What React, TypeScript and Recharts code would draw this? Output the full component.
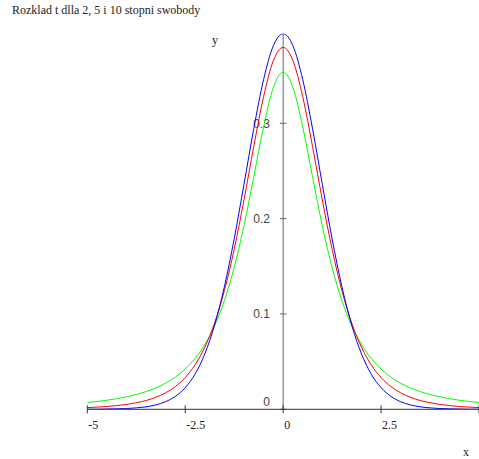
import React from "react";
import { LineChart, Line, XAxis, YAxis, ReferenceLine } from "recharts";

// Sample positions along the x axis
const xValues = [
  -5, -4.75, -4.5, -4.25, -4, -3.75, -3.5, -3.25, -3, -2.75, -2.5, -2.25, -2, -1.75, -1.5, -1.25, -1, -0.75, -0.5, -0.25,
  0, 0.25, 0.5, 0.75, 1, 1.25, 1.5, 1.75, 2, 2.25, 2.5, 2.75, 3, 3.25, 3.5, 3.75, 4, 4.25, 4.5, 4.75, 5,
];

// Density values (green curve: 2 degrees of freedom)
const green = [
  0.0071, 0.0082, 0.0095, 0.0111, 0.0131, 0.0155, 0.0186, 0.0225, 0.0274, 0.0338, 0.0422, 0.0533, 0.068, 0.0878, 0.1141, 0.1487, 0.1925, 0.2438, 0.2963, 0.3376,
  0.3536, 0.3376, 0.2963, 0.2438, 0.1925, 0.1487, 0.1141, 0.0878, 0.068, 0.0533, 0.0422, 0.0338, 0.0274, 0.0225, 0.0186, 0.0155, 0.0131, 0.0111, 0.0095, 0.0082, 0.0071,
];

// Density values (red curve: 5 degrees of freedom)
const red = [
  0.0018, 0.0023, 0.0029, 0.0039, 0.0051, 0.0069, 0.0092, 0.0126, 0.0173, 0.0239, 0.0333, 0.0466, 0.0651, 0.0905, 0.1245, 0.1679, 0.2197, 0.2757, 0.3279, 0.3657,
  0.3796, 0.3657, 0.3279, 0.2757, 0.2197, 0.1679, 0.1245, 0.0905, 0.0651, 0.0466, 0.0333, 0.0239, 0.0173, 0.0126, 0.0092, 0.0069, 0.0051, 0.0039, 0.0029, 0.0023, 0.0018,
];

// Density values (blue curve)
const blue = [
  0.0001, 0.0001, 0.0003, 0.0005, 0.0008, 0.0015, 0.0026, 0.0046, 0.008, 0.0136, 0.0227, 0.0368, 0.0581, 0.0883, 0.1286, 0.1788, 0.236, 0.2944, 0.3458, 0.3813,
  0.394, 0.3813, 0.3458, 0.2944, 0.236, 0.1788, 0.1286, 0.0883, 0.0581, 0.0368, 0.0227, 0.0136, 0.008, 0.0046, 0.0026, 0.0015, 0.0008, 0.0005, 0.0003, 0.0001, 0.0001,
];

const xTicks = [-5, -2.5, 0, 2.5, 5];
const xTickLabels = ["-5", "-2.5", "0", "2.5", ""];
const yTicks = [0, 0.1, 0.2, 0.3];
const yTickLabels = ["0", "0.1", "0.2", "0.3"];

const title = "Rozklad t dlla 2, 5 i 10 stopni swobody";

const data = xValues.map((x, i) => ({ x, green: green[i], red: red[i], blue: blue[i] }));

const W = 479;
const H = 459;
const serif = "'Liberation Serif', 'Times New Roman', serif";
const sans = "'Liberation Sans', Arial, sans-serif";
const TICK_HALF = 0.085; // half-length of the y tick marks, in x units

const XTick = (props: any) => {
  const { x, y, payload } = props;
  const idx = xTicks.indexOf(payload.value);
  const label = idx >= 0 ? xTickLabels[idx] : "";
  return (
    <g>
      <line x1={x} x2={x} y1={y - 4} y2={y + 4} stroke="#333" strokeWidth={1} />
      <text x={x + 1} y={y + 20} fontFamily={serif} fontSize={12} fill="#222" textAnchor="start">
        {label}
      </text>
    </g>
  );
};

const YTickText = (props: any) => {
  const { viewBox, text, atZero } = props;
  if (!viewBox) return null;
  const ty = viewBox.y + (atZero ? -3 : 4.5);
  return (
    <text x={viewBox.x - 10} y={ty} fontFamily={sans} fontSize={12} fill="#444" textAnchor="end">
      {text}
    </text>
  );
};

export default function App() {
  return (
    <div style={{ position: "absolute", left: 0, top: 0, width: W, height: H, background: "#fff" }}>
      <div
        style={{
          position: "absolute",
          left: 12,
          top: 3,
          fontFamily: serif,
          fontSize: 12,
          color: "#222",
          whiteSpace: "nowrap",
          lineHeight: "14px",
        }}
      >
        {title}
      </div>
      <div style={{ position: "absolute", left: 212, top: 33, fontFamily: serif, fontSize: 12, color: "#222" }}>y</div>
      <div style={{ position: "absolute", left: 463, top: 445, fontFamily: serif, fontSize: 12, color: "#222" }}>x</div>
      <LineChart width={W} height={H} data={data} margin={{ top: 33.7, right: 0, bottom: 19.7, left: 87.3 }}>
        <XAxis
          dataKey="x"
          type="number"
          domain={[-5, 5]}
          ticks={xTicks}
          interval={0}
          height={30}
          tickSize={0}
          tickMargin={0}
          tickLine={false}
          axisLine={{ stroke: "#333", strokeWidth: 1 }}
          tick={<XTick />}
          allowDataOverflow
        />
        <YAxis type="number" domain={[0, 0.394]} hide width={0} allowDataOverflow />
        <ReferenceLine x={0} stroke="#666" strokeWidth={1} />
        {yTicks.map((v, i) => (
          <ReferenceLine
            key={v}
            segment={[
              { x: -TICK_HALF, y: v },
              { x: TICK_HALF, y: v },
            ]}
            stroke="#666"
            strokeWidth={1}
            ifOverflow="visible"
            label={<YTickText text={yTickLabels[i]} atZero={v === 0} />}
          />
        ))}
        <Line type="monotone" dataKey="green" stroke="#00ff00" strokeWidth={1} dot={false} isAnimationActive={false} />
        <Line type="monotone" dataKey="red" stroke="#ff0000" strokeWidth={1} dot={false} isAnimationActive={false} />
        <Line type="monotone" dataKey="blue" stroke="#0000ff" strokeWidth={1} dot={false} isAnimationActive={false} />
      </LineChart>
    </div>
  );
}
